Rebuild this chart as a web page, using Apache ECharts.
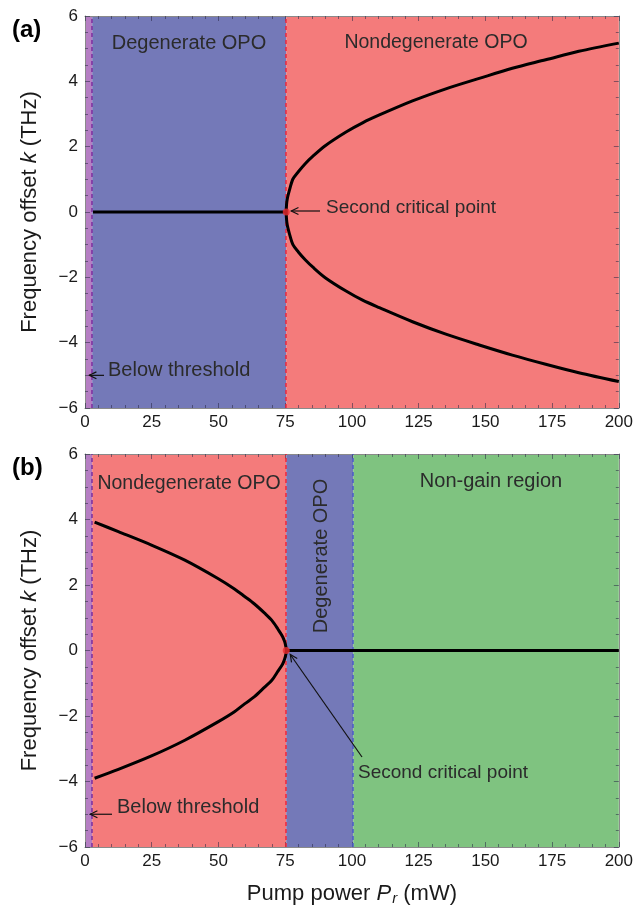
<!DOCTYPE html>
<html><head><meta charset="utf-8">
<script src="https://cdn.jsdelivr.net/npm/echarts@6/dist/echarts.min.js"></script>
<style>html,body{margin:0;padding:0;background:#fff}#c{width:636px;height:907px}</style>
</head><body><div id="c"></div>
<script>
// ---------- data ----------
const pumpRange = [0, 200];          // mW
const kRange = [-6, 6];              // THz
const thresholdP = 2.7;              // below-threshold boundary (mW)
const criticalP = 75.4;              // second critical point (mW)
const nonGainP = 100.5;              // panel (b) degenerate / non-gain boundary

// panel (a): nondegenerate branches
const pumpA   = [75.4, 75.5, 75.8, 76.5, 77.9, 80.0, 82.5, 85.4, 90.0, 97.8, 104.0, 110.3, 122.7, 135.2, 147.7, 160.1, 172.6, 185.0, 200.0];
const kUpperA = [0.00, 0.22, 0.41, 0.64, 1.01, 1.24, 1.48, 1.71, 2.03, 2.45, 2.73, 2.97, 3.40, 3.77, 4.09, 4.40, 4.66, 4.92, 5.17];
const kLowerA = [0.00, -0.22, -0.41, -0.64, -1.00, -1.23, -1.46, -1.69, -2.01, -2.42, -2.70, -2.93, -3.36, -3.74, -4.07, -4.38, -4.66, -4.92, -5.19];
// panel (a): degenerate (k = 0) line
const pumpFlatA = [3.0, 75.4];
const kFlatA    = [0, 0];

// panel (b): nondegenerate branches
const pumpB   = [3.6, 12.5, 24.9, 37.4, 49.8, 56.0, 59.8, 63.5, 67.3, 70.0, 72.3, 74.0, 74.8, 75.3, 75.4];
const kUpperB = [3.92, 3.63, 3.22, 2.76, 2.20, 1.88, 1.65, 1.42, 1.14, 0.92, 0.65, 0.43, 0.27, 0.10, 0.00];
const kLowerB = [-3.90, -3.63, -3.22, -2.74, -2.18, -1.87, -1.63, -1.41, -1.12, -0.91, -0.63, -0.42, -0.26, -0.10, 0.00];
// panel (b): degenerate + non-gain (k = 0) line
const pumpFlatB = [75.4, 200];
const kFlatB    = [0, 0];

const xTickStep = 25;
const yTickStep = 2;

// ---------- styling ----------
const FONT = 'Liberation Sans, Arial, Helvetica, sans-serif';
const C = {
  below: '#B57EC3', degen: '#7479B8', nondeg: '#F47B7B', nongain: '#7FC380',
  dashBelow: '#7B2D9E', dashCrit: '#F0243A', dashNongain: '#4A5BC6',
  text: '#2b2b2b', tick: 'rgba(40,40,70,0.55)', frame: '#8a8a8a'
};

function pairs(xs, ys) { return xs.map((x, i) => [x, ys[i]]); }
function branch(xs, up, lo) {
  // upper branch reversed, then lower branch -> one continuous curve through the vertex
  const a = pairs(xs, up).reverse();
  const b = pairs(xs, lo).slice(1);
  return a.concat(b);
}
function branchB(xs, up, lo) {
  const a = pairs(xs, up);
  const b = pairs(xs, lo).reverse().slice(1);
  return a.concat(b);
}

function xAxis(grid, pos, labels, name) {
  return {
    type: 'value', gridIndex: grid, position: pos,
    min: pumpRange[0], max: pumpRange[1], interval: xTickStep,
    axisLine: { show: true, onZero: false, lineStyle: { color: C.frame, width: 1 } },
    axisTick: { show: true, inside: true, length: 5, lineStyle: { color: C.tick } },
    minorTick: { show: true, splitNumber: 5, length: 3, lineStyle: { color: C.tick } },
    splitLine: { show: false },
    axisLabel: { show: labels, color: '#1a1a1a', fontSize: 17, fontFamily: FONT, margin: 6 },
    name: name || '', nameLocation: 'middle', nameGap: 34,
    nameTextStyle: {
      fontFamily: FONT, fontSize: 22, color: '#1a1a1a',
      rich: {
        n: { fontFamily: FONT, fontSize: 22, color: '#1a1a1a' },
        i: { fontFamily: FONT, fontSize: 22, fontStyle: 'italic', color: '#1a1a1a' },
        s: { fontFamily: FONT, fontSize: 15, fontStyle: 'italic', color: '#1a1a1a', verticalAlign: 'bottom', padding: [10, 0, 0, 1] }
      }
    }
  };
}
function yAxis(grid, pos, labels, name) {
  return {
    type: 'value', gridIndex: grid, position: pos,
    min: kRange[0], max: kRange[1], interval: yTickStep,
    axisLine: { show: true, onZero: false, lineStyle: { color: C.frame, width: 1 } },
    axisTick: { show: true, inside: true, length: 5, lineStyle: { color: C.tick } },
    minorTick: { show: true, splitNumber: 4, length: 3, lineStyle: { color: C.tick } },
    splitLine: { show: false },
    axisLabel: { show: labels, color: '#1a1a1a', fontSize: 17, fontFamily: FONT, margin: 7,
      formatter: v => String(v).replace('-', '\u2212') },
    name: name || '', nameLocation: 'middle', nameGap: 44, nameRotate: 90,
    nameTextStyle: {
      fontFamily: FONT, fontSize: 22, color: '#1a1a1a',
      rich: {
        n: { fontFamily: FONT, fontSize: 22, color: '#1a1a1a' },
        i: { fontFamily: FONT, fontSize: 22, fontStyle: 'italic', color: '#1a1a1a' }
      }
    }
  };
}
const yName = '{n|Frequency offset }{i|k}{n| (THz)}';
const xName = '{n|Pump power }{i|P}{s|r}{n| (mW)}';

function dashed(x, color) {
  return { xAxis: x, lineStyle: { color: color, type: [4, 3], width: 1.5 } };
}

const chart = echarts.init(document.getElementById('c'), null, { renderer: 'canvas' });

const option = {
  animation: false,
  backgroundColor: '#fff',
  grid: [
    { left: 85, top: 16, width: 535, height: 392 },
    { left: 85, top: 454, width: 535, height: 393 }
  ],
  xAxis: [xAxis(0, 'bottom', true), xAxis(0, 'top', false), xAxis(1, 'bottom', true, xName), xAxis(1, 'top', false)],
  yAxis: [yAxis(0, 'left', true, yName), yAxis(0, 'right', false), yAxis(1, 'left', true, yName), yAxis(1, 'right', false)],
  series: [
    // ---- panel (a)
    {
      type: 'line', xAxisIndex: 0, yAxisIndex: 0, data: pairs(pumpFlatA, kFlatA),
      symbol: 'none', lineStyle: { color: '#000', width: 3 }, z: 3,
      markArea: { silent: true, z: 0, data: [
        [{ xAxis: pumpRange[0], itemStyle: { color: C.below } }, { xAxis: thresholdP }],
        [{ xAxis: thresholdP, itemStyle: { color: C.degen } }, { xAxis: criticalP }],
        [{ xAxis: criticalP, itemStyle: { color: C.nondeg } }, { xAxis: pumpRange[1] }]
      ] },
      markLine: { silent: true, symbol: 'none', label: { show: false }, z: 1,
        data: [dashed(thresholdP, C.dashBelow), dashed(criticalP, C.dashCrit)] }
    },
    {
      type: 'line', xAxisIndex: 0, yAxisIndex: 0, data: branch(pumpA, kUpperA, kLowerA),
      symbol: 'none', smooth: 0.3, lineStyle: { color: '#000', width: 3, join: 'round' }, z: 3
    },
    {
      type: 'scatter', xAxisIndex: 0, yAxisIndex: 0, data: [[criticalP, 0]],
      symbolSize: 7, itemStyle: { color: '#EE2A2E' }, z: 5
    },
    // ---- panel (b)
    {
      type: 'line', xAxisIndex: 2, yAxisIndex: 2, data: pairs(pumpFlatB, kFlatB),
      symbol: 'none', lineStyle: { color: '#000', width: 3 }, z: 3,
      markArea: { silent: true, z: 0, data: [
        [{ xAxis: pumpRange[0], itemStyle: { color: C.below } }, { xAxis: thresholdP }],
        [{ xAxis: thresholdP, itemStyle: { color: C.nondeg } }, { xAxis: criticalP }],
        [{ xAxis: criticalP, itemStyle: { color: C.degen } }, { xAxis: nonGainP }],
        [{ xAxis: nonGainP, itemStyle: { color: C.nongain } }, { xAxis: pumpRange[1] }]
      ] },
      markLine: { silent: true, symbol: 'none', label: { show: false }, z: 1,
        data: [dashed(thresholdP, C.dashBelow), dashed(criticalP, C.dashCrit), dashed(nonGainP, C.dashNongain)] }
    },
    {
      type: 'line', xAxisIndex: 2, yAxisIndex: 2, data: branchB(pumpB, kUpperB, kLowerB),
      symbol: 'none', smooth: 0.3, lineStyle: { color: '#000', width: 3, join: 'round' }, z: 3
    },
    {
      type: 'scatter', xAxisIndex: 2, yAxisIndex: 2, data: [[criticalP, 0]],
      symbolSize: 7, itemStyle: { color: '#EE2A2E' }, z: 5
    }
  ]
};
chart.setOption(option);

// ---------- annotations ----------
function txt(x, y, s, opts) {
  opts = opts || {};
  return {
    type: 'text', x: x, y: y, rotation: opts.rot || 0, z: 20,
    style: {
      text: s, fill: opts.color || C.text,
      font: (opts.bold ? 'bold ' : '') + (opts.size || 20) + 'px ' + FONT,
      align: opts.align || 'left', verticalAlign: 'middle',
      textAlign: opts.align || 'left', textVerticalAlign: 'middle'
    }
  };
}
function arrow(from, to) {
  const dx = to[0] - from[0], dy = to[1] - from[1];
  const L = Math.hypot(dx, dy), ux = dx / L, uy = dy / L;
  const h = 8, a = 0.45;
  const p1 = [to[0] - h * (ux * Math.cos(a) - uy * Math.sin(a)), to[1] - h * (uy * Math.cos(a) + ux * Math.sin(a))];
  const p2 = [to[0] - h * (ux * Math.cos(a) + uy * Math.sin(a)), to[1] - h * (uy * Math.cos(a) - ux * Math.sin(a))];
  return [
    { type: 'line', z: 20, shape: { x1: from[0], y1: from[1], x2: to[0], y2: to[1] }, style: { stroke: '#111', lineWidth: 1.2 } },
    { type: 'polyline', z: 20, shape: { points: [p1, to, p2] }, style: { stroke: '#111', lineWidth: 1.2, fill: null } }
  ];
}
const critA = chart.convertToPixel({ gridIndex: 0 }, [criticalP, 0]);
const critB = chart.convertToPixel({ gridIndex: 1 }, [criticalP, 0]);
const thrA = chart.convertToPixel({ gridIndex: 0 }, [thresholdP, -5]);
const thrB = chart.convertToPixel({ gridIndex: 1 }, [thresholdP, -5]);

const g = [
  txt(12, 30, '(a)', { bold: true, size: 24, color: '#000' }),
  txt(12, 468, '(b)', { bold: true, size: 24, color: '#000' }),
  txt(189, 43, 'Degenerate OPO', { align: 'center' }),
  txt(436, 43, 'Nondegenerate OPO', { align: 'center', size: 19.5 }),
  txt(326, 208, 'Second critical point', { size: 19 }),
  txt(108, 370, 'Below threshold'),
  txt(189, 484, 'Nondegenerate OPO', { align: 'center', size: 19.5 }),
  txt(491, 481, 'Non-gain region', { align: 'center' }),
  txt(321, 556, 'Degenerate OPO', { align: 'center', rot: Math.PI / 2 }),
  txt(358, 773, 'Second critical point', { size: 19 }),
  txt(117, 807, 'Below threshold')
]
  .concat(arrow([320, critA[1] - 1], [critA[0] + 5, critA[1] - 1]))
  .concat(arrow([104, thrA[1]], [thrA[0] - 3, thrA[1]]))
  .concat(arrow([362, 757], [critB[0] + 4, critB[1] + 4]))
  .concat(arrow([112, thrB[1]], [thrB[0] - 2, thrB[1]]));

chart.setOption({ graphic: g });
</script>
</body></html>
